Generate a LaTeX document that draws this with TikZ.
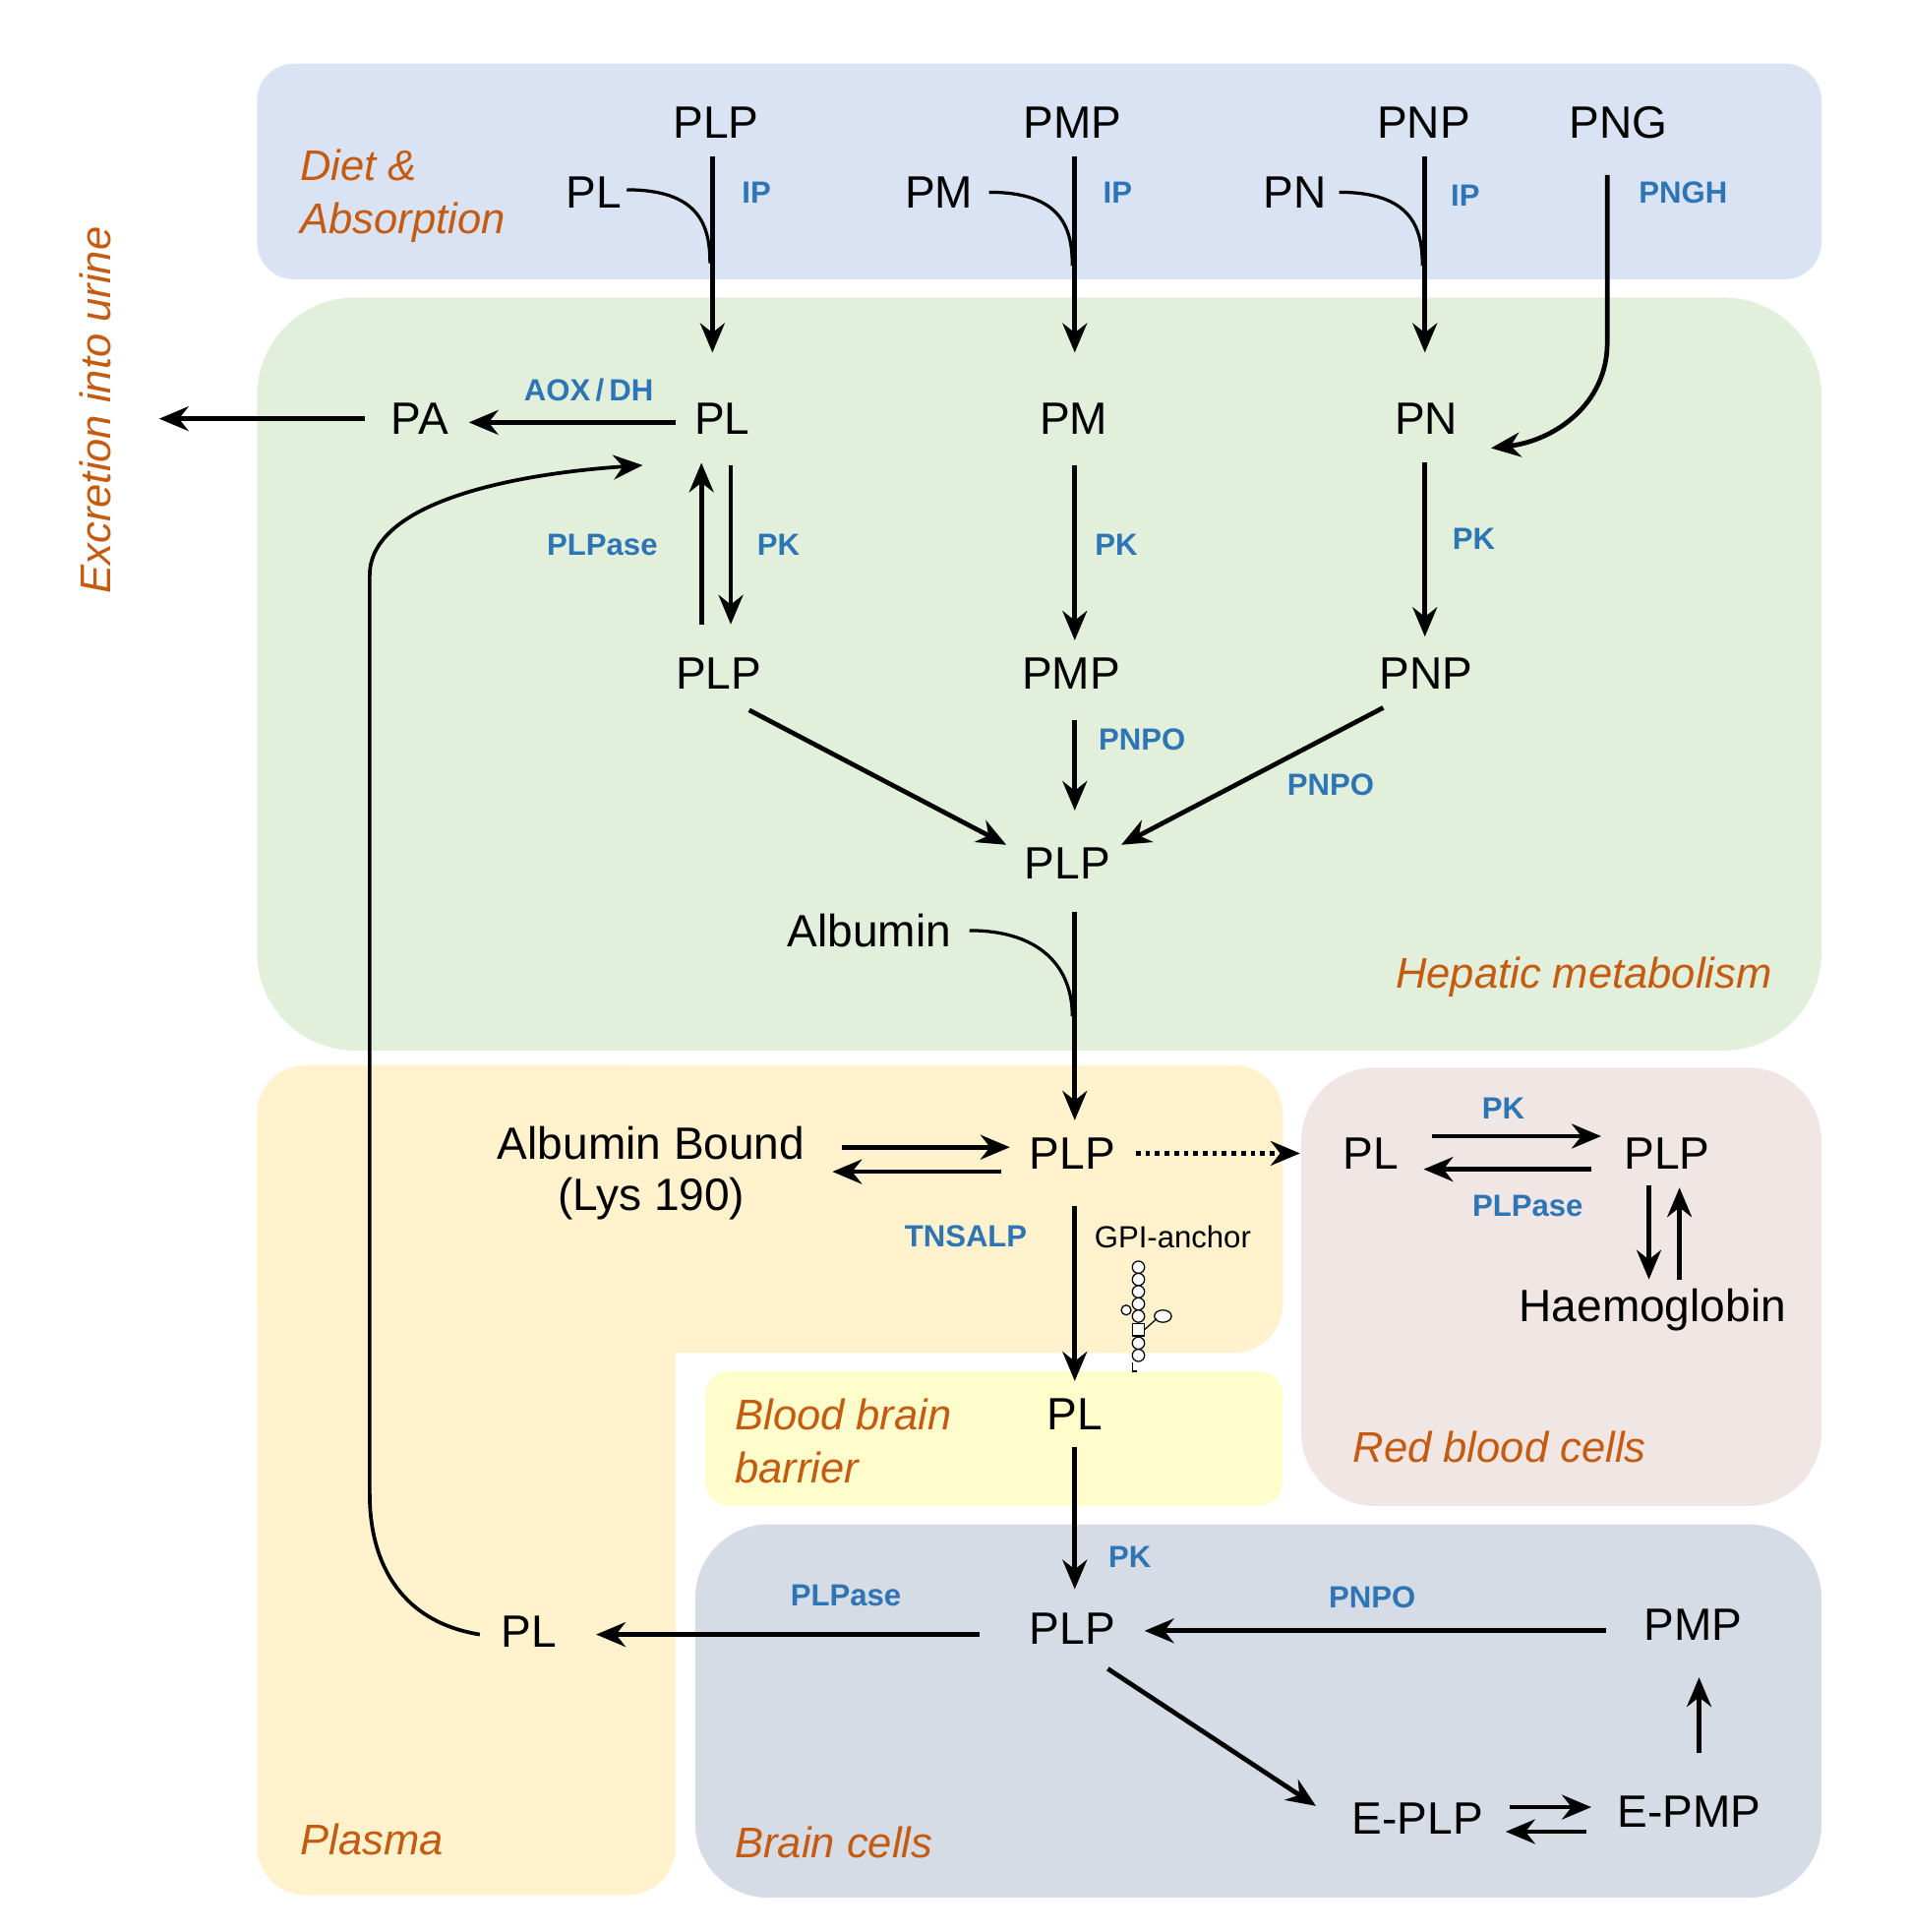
\documentclass[tikz,border=0pt]{standalone}
\usepackage{fontspec}
\setmainfont{Liberation Sans}
\usetikzlibrary{arrows.meta}
\definecolor{cdiet}{HTML}{DAE3F3}
\definecolor{chep}{HTML}{E2EFDA}
\definecolor{cpla}{HTML}{FFF2CC}
\definecolor{cbbb}{HTML}{FFFDCC}
\definecolor{crbc}{HTML}{F0E6E4}
\definecolor{cbrain}{HTML}{D6DCE5}
\definecolor{corg}{HTML}{C55A11}
\definecolor{cblu}{HTML}{2E75B6}
\begin{document}
\begin{tikzpicture}[x=0.5pt,y=-0.5pt,
 m/.style={font=\fontsize{18.5}{21}\selectfont,inner sep=0pt},
 e/.style={font=\fontsize{12.5}{14}\selectfont\bfseries,text=cblu,inner sep=0pt},
 reg/.style={font=\fontsize{17.5}{22}\selectfont\itshape,text=corg,inner sep=0pt,align=left},
 arr/.style={line width=1.9pt,-{Stealth[length=12pt,width=10pt]}},
 ln/.style={line width=1.3pt}]
\useasboundingbox (0,0) rectangle (1560,1578);
% regions
\fill[cdiet,rounded corners=15pt] (210,52) rectangle (1488,228);
\fill[chep,rounded corners=40pt] (210,243) rectangle (1488,858);
\fill[cpla,rounded corners=20pt] (210,870) rectangle (1048,1105);
\fill[cpla,rounded corners=20pt] (210,870) rectangle (552,1548);
\fill[cbbb,rounded corners=10pt] (576,1120) rectangle (1048,1230);
\fill[crbc,rounded corners=30pt] (1063,872) rectangle (1488,1230);
\fill[cbrain,rounded corners=30pt] (568,1245) rectangle (1488,1550);
% region labels
\node[reg,anchor=west] (lDiet) at (245,160) {Diet \&\\Absorption};
\node[reg,anchor=east] (lHep) at (1448,798) {Hepatic metabolism};
\node[reg,anchor=west] (lPla) at (245,1502) {Plasma};
\node[reg,anchor=west] (lBbb) at (600,1177) {Blood brain\\barrier};
\node[reg,anchor=west] (lRbc) at (1105,1182) {Red blood cells};
\node[reg,anchor=west] (lBrain) at (600,1505) {Brain cells};
\node[reg,rotate=90] (lExc) at (78,335) {Excretion into urine};
% diet
\node[m] (dPLP) at (585,100) {PLP};
\node[m] (dPMP) at (876,100) {PMP};
\node[m] (dPNP) at (1163,100) {PNP};
\node[m] (dPNG) at (1322,100) {PNG};
\node[m] (dPL) at (485,157) {PL};
\node[m] (dPM) at (767,157) {PM};
\node[m] (dPN) at (1058,157) {PN};
\node[e] (ip1) at (618,157) {IP};
\node[e] (ip2) at (913,157) {IP};
\node[e] (ip3) at (1197,160) {IP};
\node[e] (pngh) at (1375,157) {PNGH};
\draw[arr] (582,128) -- (582,288);
\draw[ln] (512,155) .. controls (572,155) and (580,185) .. (580,215);
\draw[arr] (878,128) -- (878,288);
\draw[ln] (808,157) .. controls (868,157) and (876,187) .. (876,217);
\draw[arr] (1164,128) -- (1164,288);
\draw[ln] (1094,157) .. controls (1154,157) and (1162,187) .. (1162,217);
\draw[arr] (1313,143) -- (1313,280) .. controls (1313,330) and (1270,360) .. (1218,366);
% hepatic
\node[m] (hPA) at (343,342) {PA};
\node[m] (hPL) at (590,342) {PL};
\node[m] (hPM) at (877,342) {PM};
\node[m] (hPN) at (1165,342) {PN};
\node[e] (aox) at (481,319) {AOX\,/\,DH};
\draw[arr] (552,345) -- (383,345);
\draw[arr] (298,342) -- (130,342);
\draw[arr] (573,510) -- (573,378);
\draw[arr] (597,380) -- (597,510);
\node[e] (e1) at (492,445) {PLPase};
\node[e] (e2) at (636,445) {PK};
\draw[arr] (878,380) -- (878,523);
\node[e] (e3) at (912,445) {PK};
\draw[arr] (1164,378) -- (1164,520);
\node[e] (e4) at (1204,440) {PK};
\node[m] (hPLP) at (587,550) {PLP};
\node[m] (hPMP) at (875,550) {PMP};
\node[m] (hPNP) at (1165,550) {PNP};
\draw[arr] (612,580) -- (822,690);
\draw[arr] (878,588) -- (878,662);
\node[e] (e5) at (933,604) {PNPO};
\draw[arr] (1130,578) -- (916,690);
\node[e] (e6) at (1087,641) {PNPO};
\node[m] (hPLP2) at (872,705) {PLP};
\node[m] (alb) at (710,760) {Albumin};
\draw[arr] (878,745) -- (878,915);
\draw[ln] (792,760) .. controls (850,760) and (876,790) .. (876,830);
% plasma
\node[m,align=center] (ab) at (532,958) {Albumin Bound\\(Lys 190)};
\node[m] (pPLP) at (876,942) {PLP};
\draw[arr] (688,937) -- (825,937);
\draw[arr] (818,957) -- (680,957);
\draw[line width=1.9pt,dotted,-{Stealth[length=12pt,width=10pt]}] (928,942) -- (1062,942);
\node[e] (e7) at (789,1010) {TNSALP};
\node[font=\fontsize{12.5}{14}\selectfont,inner sep=0pt] (gpi) at (958,1010) {GPI-anchor};
\draw[arr] (878,985) -- (878,1128);
% GPI glyph
\begin{scope}[line width=0.5pt]
\foreach \yy in {1035,1045,1055,1065,1075,1097,1107} \draw[fill=white] (930,\yy) circle (2.5pt);
\draw[fill=white] (925,1081) rectangle (935,1091);
\draw[fill=white] (950,1075) ellipse (3.5pt and 2.5pt);
\draw[fill=white] (920,1070) circle (2pt);
\draw (935,1086) -- (945,1077);
\draw (925,1113) -- (925,1120) -- (929,1120);
\end{scope}
% BBB
\node[m] (bPL) at (878,1155) {PL};
\draw[arr] (878,1182) -- (878,1298);
\node[e] (e8) at (923,1272) {PK};
% RBC
\node[m] (rPL) at (1120,942) {PL};
\node[m] (rPLP) at (1362,942) {PLP};
\draw[arr] (1170,928) -- (1308,928);
\node[e] (e9) at (1228,905) {PK};
\draw[arr] (1300,955) -- (1163,955);
\node[e] (e10) at (1248,985) {PLPase};
\draw[arr] (1347,968) -- (1347,1045);
\draw[arr] (1372,1045) -- (1372,970);
\node[m] (hb) at (1350,1070) {Haemoglobin};
% brain
\node[m] (brPLP) at (876,1330) {PLP};
\node[m] (plPL) at (432,1333) {PL};
\draw[arr] (800,1335) -- (487,1335);
\node[e] (e11) at (691,1303) {PLPase};
\node[m] (brPMP) at (1383,1327) {PMP};
\draw[arr] (1312,1332) -- (935,1332);
\node[e] (e12) at (1121,1305) {PNPO};
\draw[arr] (905,1363) -- (1075,1475);
\node[m] (ePLP) at (1158,1485) {E-PLP};
\node[m] (ePMP) at (1380,1480) {E-PMP};
\draw[arr] (1233,1476) -- (1300,1476);
\draw[arr] (1296,1496) -- (1230,1496);
\draw[arr] (1388,1432) -- (1388,1370);
% recycle
\draw[arr,line width=1.5pt] (392,1335) .. controls (330,1325) and (302,1280) .. (302,1220) -- (302,470) .. controls (302,410) and (420,387) .. (525,380);
\end{tikzpicture}
\end{document}
